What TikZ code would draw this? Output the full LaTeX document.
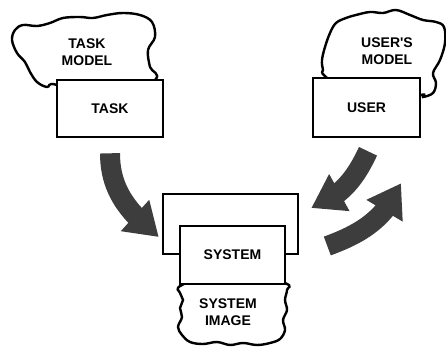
\documentclass[tikz,border=0pt]{standalone}
\usepackage{fontspec}
\setmainfont{Liberation Sans}
\usepackage{tikz}
\usetikzlibrary{arrows.meta, bending, positioning, calc}

\begin{document}
\begin{tikzpicture}[x=1pt, y=1pt,
        box/.style={draw, line width=2.6pt, fill=white, inner sep=0pt, font=\bfseries\fontsize{14}{17}\selectfont},
        cloud/.style={draw, line width=2.4pt, fill=white},
        label/.style={align=center, font=\bfseries\fontsize{14}{17}\selectfont},
        bigarrow/.style={line width=20pt, draw=black!76, -{Triangle[width=40pt, length=32pt]}}]

        \useasboundingbox (0,0) rectangle (446,347);

        % Task model
        \draw[cloud] plot[smooth cycle, tension=0.6] coordinates {(57,262) (47,260) (37,265) (30,275) (25,285) (17,294) (12,307) (15,317) (23,322) (37,321) (50,324) (63,329) (80,330) (93,329) (107,332) (123,334) (140,332) (152,325) (155,310) (148,297) (150,280) (155,267) (110,240)};
        \node[label] (taskmodel) at (87,294.5) {TASK\\MODEL};

        % Task
        \node[box, minimum width=106pt, minimum height=57pt] (task) at (110,238.5) {TASK};

        % User's model
        \draw[cloud] plot[smooth cycle, tension=0.6] coordinates {(326,270) (323,277) (322,287) (325,300) (330,314) (336,324) (346,329) (356,332) (370,335) (383,334) (396,337) (410,332) (423,327) (436,325) (444,320) (445,304) (440,287) (433,274) (436,264) (433,254) (423,250) (420,252) (366,240)};
        \node[label] (usermodel) at (387,295.5) {USER\textquotesingle S\\MODEL};

        % User
        \node[box, minimum width=107pt, minimum height=59pt] (user) at (366.5,239.5) {USER};

        % System image
        \draw[cloud] plot[smooth cycle, tension=0.6] coordinates {(232,80) (182,62) (180,54) (183,47) (180,39) (182,30) (178,20) (182,12) (190,5) (203,3) (217,5) (230,2) (243,4) (257,2) (270,4) (280,8) (285,17) (283,27) (287,37) (285,47) (287,57) (285,64)};
        \node[label] (sysimage) at (228,34.5) {SYSTEM\\IMAGE};

        % System
        \node[box, minimum width=135pt, minimum height=60pt] (sysback) at (230.5,123) {};
        \node[box, minimum width=105pt, minimum height=58pt] (system) at (232.5,92) {SYSTEM};

        % Arrows
        \draw[bigarrow] ([yshift=-15pt]task.south) to[out=-90, in=141] ([shift={(-3,-13)}]sysback.west);
        \draw[bigarrow] ([shift={(1.5,-13)}]user.south) to[out=-115, in=21] ([shift={(12,16)}]sysback.east);
        \draw[bigarrow] ([shift={(28,-22)}]sysback.east) to[out=20, in=-114] ([shift={(34.5,-45)}]user.south);

    \end{tikzpicture}
\end{document}
